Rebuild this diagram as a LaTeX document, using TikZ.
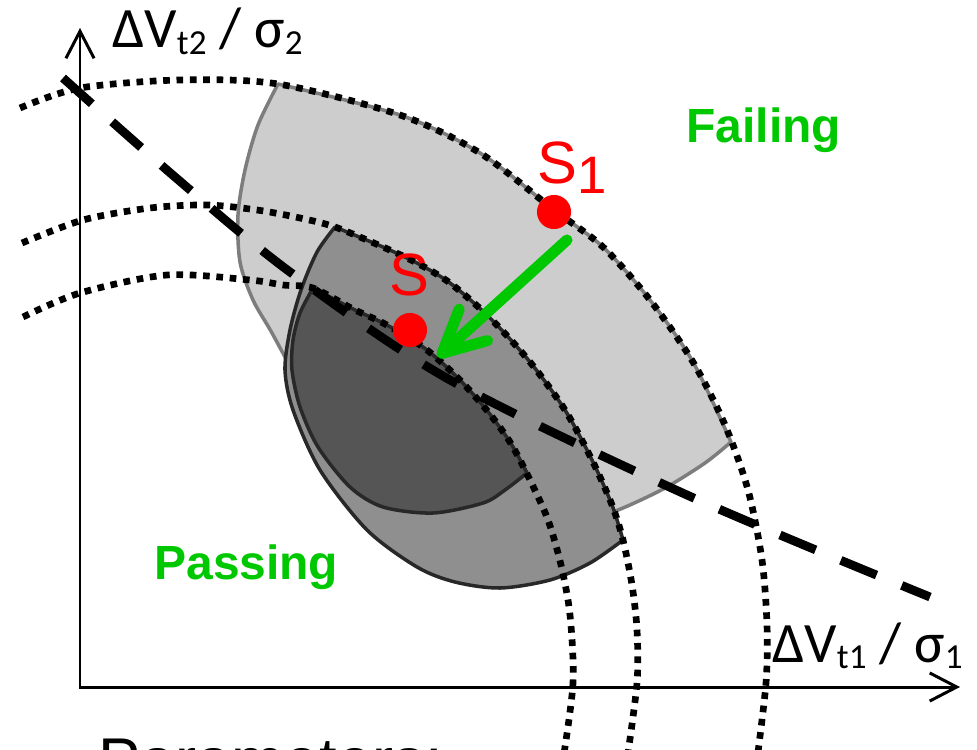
\documentclass[tikz,border=0pt]{standalone}
\usepackage{fontspec}
\setmainfont{Liberation Sans}
\newfontfamily\calibrifont{Carlito}
\usepackage{tikz}
\usetikzlibrary{arrows.meta}

\definecolor{lightregion}{RGB}{205,205,205}
\definecolor{midregion}{RGB}{143,143,143}
\definecolor{darkregion}{RGB}{85,85,85}
\definecolor{lightedge}{RGB}{125,125,125}
\definecolor{regionedge}{RGB}{40,40,40}
\definecolor{samplered}{RGB}{255,0,0}
\definecolor{regiongreen}{RGB}{0,200,0}

\newcommand{\lowsub}[1]{\raisebox{-3.5pt}{\fontsize{20}{20}\selectfont #1}}

\begin{document}
\begin{tikzpicture}[x=0.02cm, y=-0.02cm,
    region/.style={draw=#1, line width=2pt, line join=round},
    contour/.style={line width=3.8pt, dash pattern=on 3.8pt off 3.8pt},
    boundary/.style={line width=5pt, dash pattern=on 22pt off 15.5pt},
    coordaxis/.style={line width=1.7pt, {Straight Barb[length=15.4pt,width=16pt]}-{Straight Barb[length=15.4pt,width=16pt]}},
    samplept/.style={circle, fill=samplered, minimum size=19.4pt, inner sep=0pt},
    shiftarrow/.style={draw=regiongreen, line width=6.3pt, line cap=round, -{Straight Barb[length=24pt,width=24pt,round]}},
    regionlabel/.style={text=regiongreen, font=\fontsize{27.3}{30}\selectfont\bfseries, inner sep=0pt, anchor=base west},
    samplelabel/.style={text=samplered, font=\fontsize{34}{36}\selectfont, inner sep=0pt, anchor=base west},
    axislabel/.style={font=\calibrifont\fontsize{32.5}{34}\selectfont, inner sep=0pt, anchor=base west}
]
\useasboundingbox (0,0) rectangle (977,750);
\clip (0,0) rectangle (977,750);

\filldraw[region=lightedge, fill=lightregion]
  plot[smooth] coordinates {(278,84) (400,115) (480,153) (554,210) (603,247) (650,300) (693,362) (731,442)}
  -- plot[smooth] coordinates {(731,442) (705,463) (665,488) (623,508) (585,522)}
  -- (450,470)
  -- plot[smooth] coordinates {(300,385) (272,333) (253,300) (240,262) (238,215) (245,170) (258,125) (278,84)}
  -- cycle;
\filldraw[region=regionedge, fill=midregion]
  plot[smooth] coordinates {(335,227) (383,247) (417,263) (450,283) (490,318) (530,362) (565,410) (592,460) (612,505) (623,540)}
  -- plot[smooth] coordinates {(623,540) (590,563) (550,580) (500,588) (455,582) (417,567) (367,530) (320,470) (293,410) (285,370) (290,330) (301,290) (317,252) (335,227)}
  -- cycle;
\filldraw[region=regionedge, fill=darkregion]
  plot[smooth] coordinates {(313,288) (353,309) (385,324) (423,347) (455,375) (485,408) (510,442) (527,473)}
  -- plot[smooth] coordinates {(527,473) (505,490) (483,503) (433,513) (383,507) (350,487) (318,447) (300,407) (292,370) (293,340) (300,313) (313,288)}
  -- cycle;

\draw[contour] plot[smooth] coordinates {(20,108) (80,88) (180,80) (278,84) (400,115) (480,153) (554,210) (603,247) (650,300) (693,362) (725,425) (748,490) (762,560) (767,625) (766,683) (757,760)};
\draw[contour] plot[smooth] coordinates {(22,243) (83,220) (150,208) (207,205) (257,210) (300,218) (335,227) (383,247) (417,263) (450,283) (490,318) (530,362) (565,410) (592,460) (612,505) (623,540) (632,585) (637,630) (637,683) (627,760)};
\draw[contour] plot[smooth] coordinates {(23,317) (80,293) (167,275) (250,280) (283,285) (313,288) (353,309) (385,324) (423,347) (455,375) (485,408) (510,442) (530,480) (548,520) (561,565) (570,615) (573,683) (563,760)};

\draw[boundary] plot[smooth] coordinates {(63,78) (175,177) (290,272) (450,380) (687,495) (930,597)};

\coordinate (yend) at (80,28);
\coordinate (origin) at (80,687);
\coordinate (xend) at (960,687);
\draw[coordaxis] (yend) -- (origin) -- (xend);

\node[samplept] (s1dot) at (554,212) {};
\node[samplept] (sdot) at (410,330) {};
\coordinate (movestart) at (567,240);
\coordinate (movetip) at (438,357);
\draw[shiftarrow] (movestart) -- (movetip);

\node[samplelabel] (s1label) at (537,183) {S\raisebox{-5.7pt}{\fontsize{30}{30}\selectfont 1}};
\node[samplelabel] (slabel) at (389,295) {S};
\node[regionlabel] (failing) at (686,143) {Failing};
\node[regionlabel] (passing) at (154,579) {Passing};
\node[axislabel] (ylabel) at (112,48) {ΔV\lowsub{t2} / σ\lowsub{2}};
\node[axislabel] (xlabel) at (772,662) {ΔV\lowsub{t1} / σ\lowsub{1}};
\node[anchor=base west, inner sep=0pt, font=\fontsize{36}{40}\selectfont] (params) at (98,782) {Parameters:};
\end{tikzpicture}
\end{document}
